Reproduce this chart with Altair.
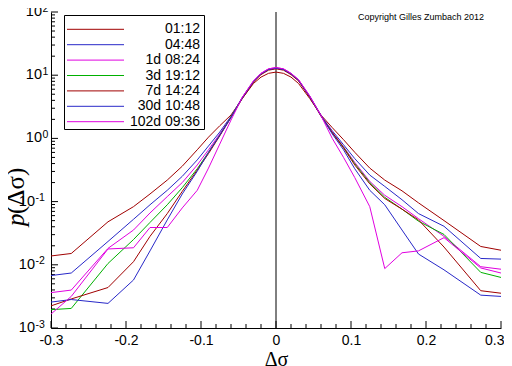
import altair as alt
import pandas as pd

# grid of return differences
x_vals = [-0.3, -0.273, -0.224, -0.19, -0.168, -0.145, -0.125, -0.105, -0.09, -0.075, -0.06,
          -0.045, -0.03, -0.02, -0.01, 0.0, 0.01, 0.02, 0.03, 0.045, 0.06,
          0.075, 0.09, 0.105, 0.125, 0.145, 0.168, 0.19, 0.224, 0.273, 0.3]

p_0112 = [0.0138, 0.0151, 0.0479, 0.0832, 0.132, 0.219, 0.363, 0.661, 1.047, 1.585, 2.344,
          4.27, 7.41, 9.33, 10.7, 11.2, 10.7, 9.33, 7.41, 4.27, 2.34,
          1.48, 0.955, 0.603, 0.339, 0.219, 0.148, 0.0955, 0.0501, 0.0195, 0.0170]
p_0448 = [0.00676, 0.00741, 0.0234, 0.0525, 0.0891, 0.151, 0.251, 0.457, 0.759, 1.259, 2.24,
          4.37, 7.94, 10.5, 12.3, 12.9, 12.3, 10.5, 8.32, 4.57, 2.29,
          1.318, 0.794, 0.479, 0.263, 0.174, 0.107, 0.0646, 0.0407, 0.0126, 0.0123]
p_1d = [0.00363, 0.00398, 0.0182, 0.0355, 0.0661, 0.120, 0.200, 0.380, 0.661, 1.175, 2.19,
        4.47, 8.13, 10.7, 12.6, 13.2, 12.6, 10.7, 8.51, 4.68, 2.34,
        1.259, 0.741, 0.417, 0.209, 0.126, 0.0832, 0.0537, 0.0282, 0.00933, 0.00851]
p_3d = [0.00195, 0.00204, 0.0105, 0.0251, 0.0468, 0.0891, 0.166, 0.331, 0.603, 1.122, 2.19,
        4.37, 7.94, 10.5, 12.3, 12.9, 12.3, 10.5, 8.32, 4.57, 2.29,
        1.23, 0.724, 0.398, 0.200, 0.117, 0.0759, 0.0490, 0.0302, 0.00759, 0.00631]
p_7d = [0.00224, 0.00288, 0.00437, 0.0112, 0.0282, 0.0646, 0.145, 0.316, 0.575, 1.096, 2.14,
        4.27, 7.76, 10.2, 12.0, 12.6, 12.0, 10.2, 8.13, 4.47, 2.24,
        1.23, 0.708, 0.380, 0.191, 0.112, 0.0759, 0.0513, 0.0191, 0.00389, 0.00355]
p_30d = [0.00257, 0.00282, 0.00245, 0.00575, 0.0166, 0.0513, 0.132, 0.302, 0.603, 1.122, 2.14,
         4.37, 7.94, 10.5, 12.3, 12.9, 12.3, 10.5, 8.32, 4.57, 2.29,
         1.175, 0.661, 0.331, 0.151, 0.0891, 0.0355, 0.0148, 0.00832, 0.00331, 0.00316]
p_102d = [0.00166, 0.00316, 0.0178, 0.0186, 0.0389, 0.0389, 0.0794, 0.151, 0.339, 0.813, 1.95,
          4.47, 8.13, 10.7, 12.6, 13.2, 12.6, 10.7, 8.51, 4.68, 2.29,
          1.0, 0.501, 0.240, 0.0832, 0.00871, 0.0155, 0.0166, 0.0269, 0.00891, 0.00741]

series_names = ["01:12", "04:48", "1d 08:24", "3d 19:12", "7d 14:24", "30d 10:48", "102d 09:36"]
series_vals = [p_0112, p_0448, p_1d, p_3d, p_7d, p_30d, p_102d]
series_colors = ["#A00000", "#2828C8", "#E000E0", "#00B000", "#A00000", "#2828C8", "#E000E0"]

x_major = [-0.3, -0.2, -0.1, 0.0, 0.1, 0.2, 0.3]
x_minor = [-0.28, -0.26, -0.24, -0.22, -0.18, -0.16, -0.14, -0.12, -0.08, -0.06, -0.04, -0.02,
           0.02, 0.04, 0.06, 0.08, 0.12, 0.14, 0.16, 0.18, 0.22, 0.24, 0.26, 0.28]
y_major = [0.001, 0.01, 0.1, 1.0, 10.0, 100.0]
y_minor_mult = [2, 3, 4, 5, 6, 7, 8, 9]
y_minor = [m * d for d in y_major[:-1] for m in y_minor_mult]
# y tick labels: base 10 with exponent
y_lab_pos = [1.0, 10.0, 100.0]
y_exp_pos = ["0", "1", "2"]
y_lab_neg = [0.001, 0.01, 0.1]
y_exp_neg = ["-3", "-2", "-1"]

rows = []
for name, vals in zip(series_names, series_vals):
    for xv, pv in zip(x_vals, vals):
        rows.append({"dsigma": xv, "p": pv, "series": name})
df = pd.DataFrame(rows)

W, H = 450, 316
xscale = alt.Scale(domain=[-0.3, 0.3], nice=False, zero=False)
yscale = alt.Scale(type="log", domain=[0.001, 100], nice=False)
cscale = alt.Scale(domain=series_names, range=series_colors)

x_label_expr = "datum.value == 0 ? '0' : (datum.value < 0 ? '-' : '') + format(abs(datum.value), '.1f')"

xaxis = alt.Axis(values=x_major, labelExpr=x_label_expr, ticks=False, grid=False,
                 domainColor="black", labelColor="black", labelFontSize=14,
                 labelFont="Liberation Sans", labelPadding=5, labelFlush=False,
                 labelAlign={"condition": {"test": "datum.value > 0.25", "value": "right"},
                             "value": "center"},
                 labelOffset={"condition": {"test": "datum.value > 0.25", "value": 3},
                              "value": 0},
                 title="\u0394\u03c3", titleFont="Liberation Serif", titleFontSize=20,
                 titleFontWeight="normal", titleColor="black",
                 titleBaseline="alphabetic", titleY=37)
yaxis = alt.Axis(values=y_major, labels=False, ticks=False, grid=False,
                 domainColor="black", title=None)

lines = alt.Chart(df).mark_line(strokeWidth=1, clip=True).encode(
    x=alt.X("dsigma:Q", scale=xscale, axis=xaxis),
    y=alt.Y("p:Q", scale=yscale, axis=yaxis),
    color=alt.Color("series:N", scale=cscale, legend=None),
    order=alt.Order("dsigma:Q"),
)

zero_line = alt.Chart(pd.DataFrame({"dsigma": [0.0]})).mark_rule(color="black", strokeWidth=1).encode(
    x=alt.X("dsigma:Q", scale=xscale, axis=xaxis)
)
x_ticks_major = alt.Chart(pd.DataFrame({"dsigma": x_major})).mark_rule(color="black", strokeWidth=1).encode(
    x=alt.X("dsigma:Q", scale=xscale, axis=xaxis), y=alt.value(H), y2=alt.value(H - 7)
)
x_ticks_minor = alt.Chart(pd.DataFrame({"dsigma": x_minor})).mark_rule(color="black", strokeWidth=1).encode(
    x=alt.X("dsigma:Q", scale=xscale, axis=xaxis), y=alt.value(H), y2=alt.value(H - 4)
)
y_ticks_major = alt.Chart(pd.DataFrame({"p": y_major})).mark_rule(color="black", strokeWidth=1).encode(
    y=alt.Y("p:Q", scale=yscale, axis=yaxis), x=alt.value(0), x2=alt.value(7)
)
y_ticks_minor = alt.Chart(pd.DataFrame({"p": y_minor})).mark_rule(color="black", strokeWidth=1).encode(
    y=alt.Y("p:Q", scale=yscale, axis=yaxis), x=alt.value(0), x2=alt.value(4)
)

def ylabels(vals, exps, xr):
    d = pd.DataFrame({"p": vals, "e": exps, "b": ["10"] * len(vals)})
    base = alt.Chart(d).mark_text(align="right", baseline="middle", fontSize=14.5,
                                  font="Liberation Sans", color="black").encode(
        y=alt.Y("p:Q", scale=yscale, axis=yaxis), x=alt.value(xr), text="b:N")
    expo = alt.Chart(d).mark_text(align="left", baseline="middle", fontSize=10.5, dy=-3.5,
                                  font="Liberation Sans", color="black").encode(
        y=alt.Y("p:Q", scale=yscale, axis=yaxis), x=alt.value(xr + 0.5), text="e:N")
    return base + expo

ylab_p = ylabels(y_lab_pos, y_exp_pos, -9)
ylab_n = ylabels(y_lab_neg, y_exp_neg, -16)

ytitle_p = alt.Chart(pd.DataFrame({"t": ["p"]})).mark_text(
    align="left", baseline="middle", angle=270, fontSize=25, fontStyle="italic",
    font="Liberation Serif", color="black"
).encode(text="t:N", x=alt.value(-35), y=alt.value(214))
ytitle_rest = alt.Chart(pd.DataFrame({"t": ["(\u0394\u03c3)"]})).mark_text(
    align="left", baseline="middle", angle=270, fontSize=25,
    font="Liberation Serif", color="black"
).encode(text="t:N", x=alt.value(-35), y=alt.value(202))

copyright_txt = alt.Chart(pd.DataFrame({"t": ["Copyright Gilles Zumbach 2012"]})).mark_text(
    align="left", baseline="middle", fontSize=9, font="Liberation Sans", color="black"
).encode(text="t:N", x=alt.value(307), y=alt.value(4.5))

main = alt.layer(zero_line, x_ticks_major, x_ticks_minor, y_ticks_major, y_ticks_minor,
                 lines, ylab_p, ylab_n, ytitle_p, ytitle_rest, copyright_txt)

# legend drawn as its own layer
leg_df = pd.DataFrame({"series": series_names})
leg_y = alt.Y("series:N", scale=alt.Scale(type="point", domain=series_names,
                                          range=[17.3, 109.7], padding=0), axis=None)
leg_box = alt.Chart(pd.DataFrame({"b": [1]})).mark_rect(
    fill="white", stroke="black", strokeWidth=1
).encode(x=alt.value(13.5), x2=alt.value(153.5), y=alt.value(3.5), y2=alt.value(117.5))
leg_lines = alt.Chart(leg_df).mark_rule(strokeWidth=1).encode(
    y=leg_y, x=alt.value(16), x2=alt.value(73),
    color=alt.Color("series:N", scale=cscale, legend=None),
)
leg_text = alt.Chart(leg_df).mark_text(
    align="right", baseline="middle", fontSize=14, font="Liberation Sans", color="black"
).encode(y=leg_y, x=alt.value(149), text="series:N")
legend = alt.layer(leg_box, leg_lines, leg_text)

chart = alt.layer(main, legend).resolve_scale(y="independent").properties(
    width=W, height=H,
    autosize=alt.AutoSizeParams(type="none"),
    padding={"left": 43, "top": 4, "right": 3, "bottom": 38},
).configure_view(stroke=None).configure_axis(domainWidth=1)

chart.save("out.html", embed_options={"renderer": "svg", "actions": False})
